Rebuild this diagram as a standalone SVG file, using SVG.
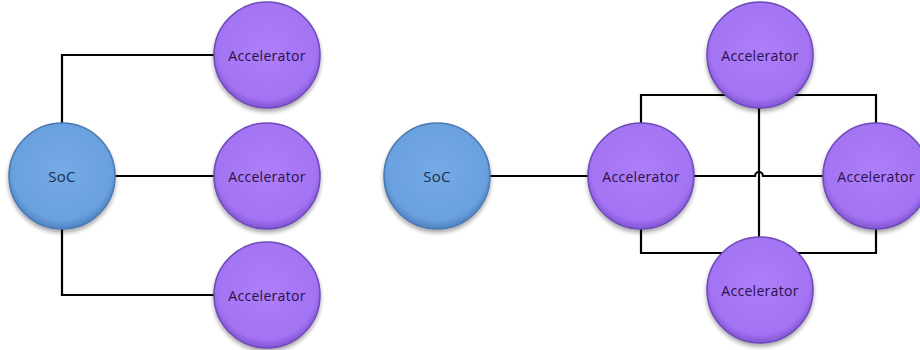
<svg xmlns="http://www.w3.org/2000/svg" width="920" height="350" viewBox="0 0 920 350">
<style>
.w{fill:none;stroke:#000;stroke-width:2.2}
.soc{fill:url(#gs);stroke:#4a78b0;stroke-width:1.5;filter:url(#sh)}
.acc{fill:url(#ga);stroke:#6e48b8;stroke-width:1.5;filter:url(#sh)}
.t{font-family:"Open Sans","Liberation Sans",sans-serif;font-size:14px;letter-spacing:0.3px;text-anchor:middle;dominant-baseline:central}
.ts{fill:#1a2f4a;font-size:15px}
.ta{fill:#2a1248}
</style>
<defs>
<radialGradient id="gs" cx="50%" cy="45%" r="55%">
<stop offset="0" stop-color="#74aae6"/><stop offset="0.85" stop-color="#6aa0de"/><stop offset="1" stop-color="#4f82c2"/>
</radialGradient>
<radialGradient id="ga" cx="50%" cy="45%" r="55%">
<stop offset="0" stop-color="#ad7ef8"/><stop offset="0.85" stop-color="#a373f3"/><stop offset="1" stop-color="#8155d2"/>
</radialGradient>
<filter id="sh" x="-20%" y="-20%" width="140%" height="150%">
<feGaussianBlur in="SourceAlpha" stdDeviation="2"/><feOffset dy="3"/>
<feComponentTransfer><feFuncA type="linear" slope="0.35"/></feComponentTransfer>
<feMerge><feMergeNode/><feMergeNode in="SourceGraphic"/></feMerge>
</filter>
</defs>
<g id="connectors">
<path class="w" d="M62,123 V55 H214"/>
<path class="w" d="M115,176 H214"/>
<path class="w" d="M62,229 V295 H214"/>
<path class="w" d="M490,176 H589"/>
<path class="w" d="M694,176 H755 A4,4 0 0 1 763,176 H823"/>
<path class="w" d="M759,108 V238"/>
<path class="w" d="M641,123 V95 H876 V123"/>
<path class="w" d="M641,229 V253 H876 V229"/>
</g>
<g id="soc1"><circle class="soc" cx="62" cy="176" r="53"/><text class="t ts" x="62" y="176">SoC</text></g>
<g id="acc1"><circle class="acc" cx="267" cy="55" r="53"/><text class="t ta" x="267" y="55">Accelerator</text></g>
<g id="acc2"><circle class="acc" cx="267" cy="176" r="53"/><text class="t ta" x="267" y="176">Accelerator</text></g>
<g id="acc3"><circle class="acc" cx="267" cy="295" r="53"/><text class="t ta" x="267" y="295">Accelerator</text></g>
<g id="soc2"><circle class="soc" cx="437" cy="176" r="53"/><text class="t ts" x="437" y="176">SoC</text></g>
<g id="acc4"><circle class="acc" cx="641" cy="176" r="53"/><text class="t ta" x="641" y="176">Accelerator</text></g>
<g id="acc5"><circle class="acc" cx="760" cy="55" r="53"/><text class="t ta" x="760" y="55">Accelerator</text></g>
<g id="acc6"><circle class="acc" cx="876" cy="176" r="53"/><text class="t ta" x="876" y="176">Accelerator</text></g>
<g id="acc7"><circle class="acc" cx="760" cy="290" r="53"/><text class="t ta" x="760" y="290">Accelerator</text></g>
</svg>
